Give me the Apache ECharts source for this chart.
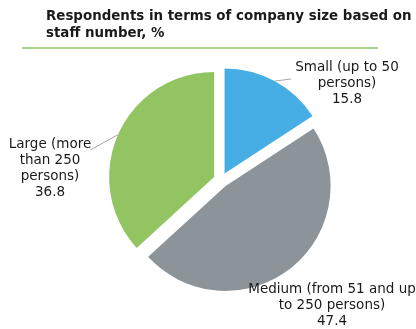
<!DOCTYPE html>
<html>
<head>
<meta charset="utf-8">
<script src="https://cdn.jsdelivr.net/npm/echarts@6/dist/echarts.min.js"></script>
<style>
  html, body { margin: 0; padding: 0; background: #fff; }
  #chart { width: 416px; height: 329px; }
</style>
</head>
<body>
<div id="chart"></div>
<script>
// Company size groups and their share of respondents, %
const categories = ['Small (up to 50\npersons)', 'Medium (from 51 and up\nto 250 persons)', 'Large (more\nthan 250\npersons)'];
const shares = [15.8, 47.4, 36.8];
const sliceColors = ['#46aee4', '#8c9499', '#92c462'];

// Where each label block is centred, in the same order as the slices
const labelSpots = [[347, 83], [332, 305], [50, 168]];
// Which labels get a leader line
const showLeader = [true, false, true];

const CENTER = [221, 180];
const RADIUS = 105;
const EXPLODE = 7.5;

const chart = echarts.init(document.getElementById('chart'), null, { renderer: 'canvas' });

// Each slice is drawn by its own pie series whose centre is pushed out
// along the slice's mid angle, giving an exploded pie.
const total = shares.reduce((a, b) => a + b, 0);
let acc = 0;
const series = shares.map((v, i) => {
  const mid = (acc + v / 2) / total * Math.PI * 2; // clockwise from 12 o'clock
  acc += v;
  return {
    type: 'pie',
    center: [CENTER[0] + EXPLODE * Math.sin(mid), CENTER[1] - EXPLODE * Math.cos(mid)],
    radius: [0, RADIUS],
    startAngle: 90,
    clockwise: true,
    avoidLabelOverlap: false,
    silent: true,
    emphasis: { disabled: true },
    label: {
      show: true,
      position: 'outside',
      overflow: 'none',
      fontFamily: 'DejaVu Sans',
      fontSize: 13.5,
      lineHeight: 16,
      color: '#1a1a1a',
      formatter: p => p.name + '\n' + p.value.toFixed(1)
    },
    labelLine: {
      show: showLeader[i],
      length: 6,
      length2: 10,
      lineStyle: { color: '#a6a6a6', width: 1 }
    },
    labelLayout: function (params) {
      const spot = labelSpots[params.dataIndex];
      const w = params.labelRect.width;
      const h = params.labelRect.height;
      const out = { x: spot[0], y: spot[1], align: 'center', verticalAlign: 'middle' };
      const pts = params.labelLinePoints;
      if (pts && showLeader[params.dataIndex]) {
        const start = pts[0];
        const onLeft = spot[0] < CENTER[0];
        // the leader runs straight from the slice rim to the first text line
        const end = onLeft
          ? [spot[0] + w / 2 - 1, spot[1] - h / 2 + 14]
          : [spot[0] - w / 2 - 4, spot[1] - h / 2 + 20];
        out.labelLinePoints = [start, [(start[0] + end[0]) / 2, (start[1] + end[1]) / 2], end];
      }
      return out;
    },
    data: categories.map((name, j) => j === i ? {
      name: name,
      value: shares[j],
      itemStyle: { color: sliceColors[j] }
    } : {
      name: name,
      value: shares[j],
      itemStyle: { color: 'rgba(0,0,0,0)' },
      label: { show: false },
      labelLine: { show: false }
    })
  };
});

chart.setOption({
  animation: false,
  title: {
    text: 'Respondents in terms of company size based on\nstaff number, %',
    left: 41,
    top: 3,
    textStyle: {
      fontFamily: 'DejaVu Sans',
      fontWeight: 'bold',
      fontSize: 13.4,
      lineHeight: 17,
      color: '#1a1a1a'
    }
  },
  graphic: [{
    type: 'line',
    shape: { x1: 22, y1: 48, x2: 378, y2: 48 },
    style: { stroke: '#92c462', lineWidth: 1.5 }
  }],
  series: series
});
</script>
</body>
</html>
